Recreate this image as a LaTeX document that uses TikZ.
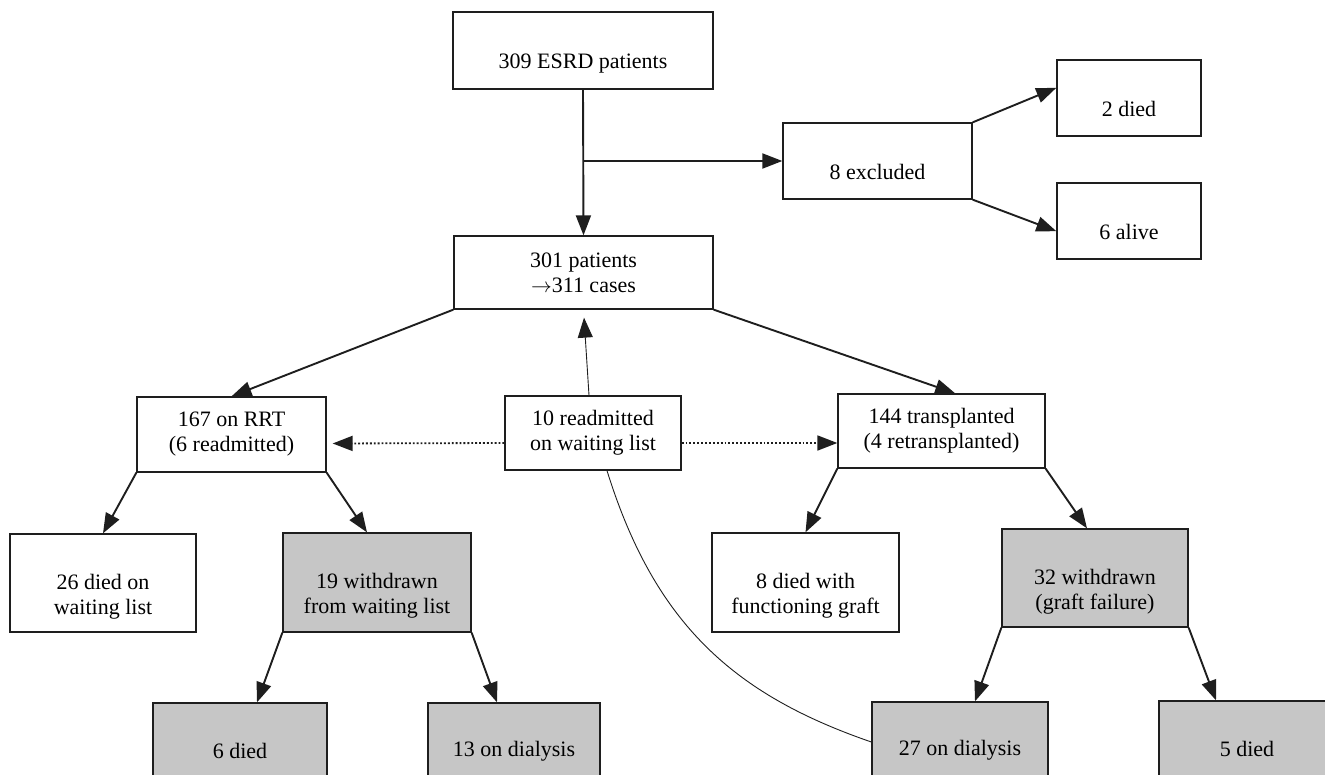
\documentclass[tikz,border=0pt]{standalone}
\usepackage{fontspec}
\setmainfont{Liberation Serif}
\usetikzlibrary{arrows.meta}
\definecolor{boxgray}{RGB}{198,198,198}
\definecolor{inkblack}{RGB}{30,30,30}

\begin{document}
\begin{tikzpicture}[
    x=1pt, y=-1pt,
    box/.style={rectangle, draw=inkblack, line width=1.3pt, fill=white, align=center, inner sep=0pt, font=\fontsize{22}{25}\selectfont},
    greybox/.style={box, fill=boxgray},
    low/.style={text height=37pt, text depth=0pt},
    lowtwo/.style={text height=62pt, text depth=0pt},
    flow/.style={-{Triangle[length=20pt, width=15pt]}, line width=1.9pt, draw=inkblack},
    link/.style={flow, dotted, line width=1.8pt},
    back/.style={line width=0.9pt, draw=inkblack}
]
\useasboundingbox (0,0) rectangle (1325,775);
\clip (0,0) rectangle (1325,775);

% Intake
\node[box, low, minimum width=260pt, minimum height=77pt] (esrd) at (583,50.5) {309 ESRD patients};
\node[box, minimum width=259pt, minimum height=73pt] (main) at (583.5,272.5) {301 patients\\$\rightarrow$311 cases};

% Excluded patients
\node[box, low, minimum width=189pt, minimum height=76pt] (excl) at (877.5,161) {8 excluded};
\node[box, low, minimum width=144pt, minimum height=76pt] (died2) at (1129,98) {2 died};
\node[box, low, minimum width=144pt, minimum height=76pt] (alive6) at (1129,221) {6 alive};

% Second level
\node[box, minimum width=189pt, minimum height=75pt] (rrt) at (231.5,434.5) {167 on RRT\\(6 readmitted)};
\node[box, minimum width=176pt, minimum height=74pt] (readm) at (593,433) {10 readmitted\\on waiting list};
\node[box, minimum width=207pt, minimum height=74pt] (transp) at (941.5,431) {144 transplanted\\(4 retransplanted)};

% Third level
\node[box, lowtwo, minimum width=186pt, minimum height=98pt] (died26) at (103,583) {26 died on\\waiting list};
\node[greybox, lowtwo, minimum width=188pt, minimum height=99pt] (wd19) at (377,582.5) {19 withdrawn\\from waiting list};
\node[box, lowtwo, minimum width=187pt, minimum height=99pt] (died8) at (805.5,582.5) {8 died with\\functioning graft};
\node[greybox, lowtwo, minimum width=186pt, minimum height=98pt] (wd32) at (1095,578) {32 withdrawn\\(graft failure)};

% Bottom row
\node[greybox, minimum width=174pt, minimum height=96pt] (died6) at (240,751) {6 died};
\node[greybox, minimum width=172pt, minimum height=96pt] (dial13) at (514,751) {13 on dialysis};
\node[greybox, minimum width=176pt, minimum height=96pt] (dial27) at (960,750) {27 on dialysis};
\node[greybox, minimum width=176pt, minimum height=96pt] (died5) at (1247,749) {5 died};

% Connections
\coordinate (split) at (esrd.south |- excl.west);
\draw[flow] (esrd.south) -- (main.north);
\draw[flow] (split) -- (excl.west);
\draw[flow] (excl.north east) -- (died2.172);
\draw[flow] (excl.south east) -- (alive6.188);
\draw[flow] (main.south west) -- (rrt.north);
\draw[flow] (main.south east) -- (transp.70);
\draw[flow] (rrt.south west) -- (died26.north);
\draw[flow] (rrt.south east) -- ([xshift=-10pt]wd19.north);
\draw[flow] (transp.south west) -- (died8.north);
\draw[flow] (transp.south east) -- ([xshift=-8pt]wd32.north);
\draw[flow] (wd19.south west) -- ([xshift=17pt]died6.north);
\draw[flow] (wd19.south east) -- ([xshift=-17pt]dial13.north);
\draw[flow] (wd32.south west) -- ([xshift=15pt]dial27.north);
\draw[flow] (wd32.south east) -- ([xshift=-31pt]died5.north);

% Readmissions
\draw[link, shorten >=6pt] ([yshift=-10pt]readm.west) -- ([yshift=-9pt]rrt.east);
\draw[link] ([yshift=-10pt]readm.east) -- ([yshift=-12pt]transp.west);
\draw[back] ([yshift=8pt]dial27.west) .. controls (735,695) and (655,625) .. ([xshift=14pt]readm.south);
\draw[back, -{Triangle[length=20pt, width=15pt]}, shorten >=8pt] ([xshift=-4pt]readm.north) -- (main.south);

\end{tikzpicture}
\end{document}
